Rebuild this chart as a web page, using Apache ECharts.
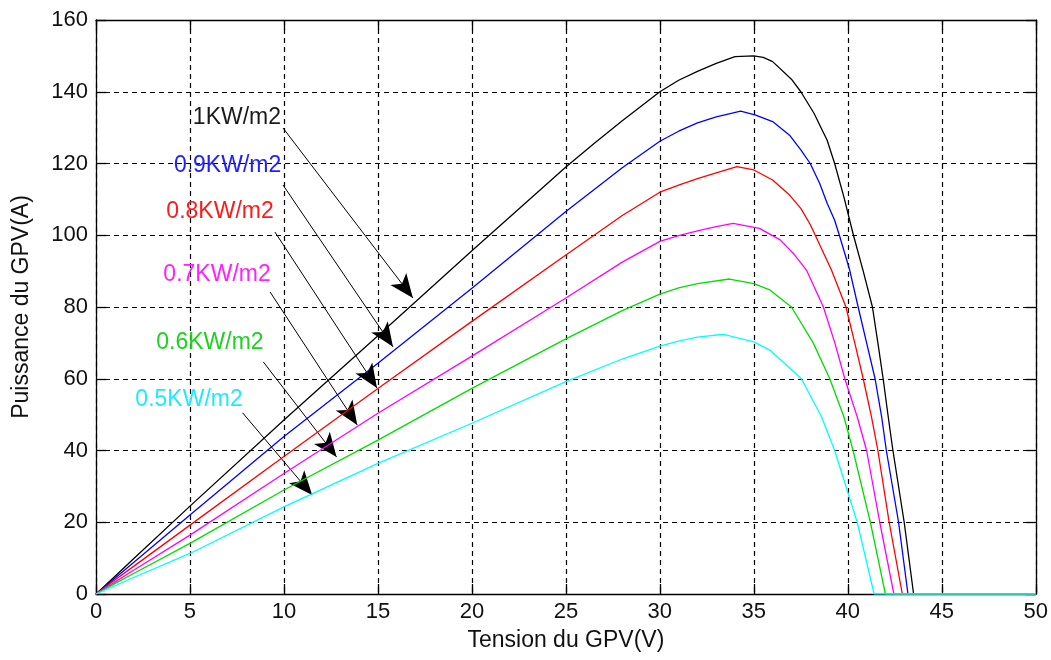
<!DOCTYPE html>
<html>
<head>
<meta charset="utf-8">
<script src="https://cdn.jsdelivr.net/npm/echarts@6/dist/echarts.min.js"></script>
<style>
  html, body { margin: 0; padding: 0; background: #fff; }
  #chart { width: 1051px; height: 660px; }
</style>
</head>
<body>
<div id="chart"></div>
<script>
// courbes P(V) pour differents eclairements
var v1000 = [0, 1, 2, 5, 10, 15, 20, 25, 26.5, 28, 30, 31, 32, 33, 34, 35, 35.5, 36, 37, 37.5, 38.2, 38.9, 39.3, 39.8, 40.3, 40.82, 41.31, 41.6, 41.88, 42.15, 42.4, 43, 43.5, 50];
var p1000 = [0, 4.9, 9.8, 24.5, 48.5, 72, 95.7, 119, 125.6, 131.9, 140, 143.2, 145.7, 147.9, 149.8, 150, 149.6, 148.4, 143.5, 140, 134, 126.5, 120, 110.5, 100, 90, 80, 70, 60, 49.4, 40, 20, 0, 0];

var v900 = [0, 1, 2, 5, 10, 15, 20, 25, 28, 30, 31, 32, 33, 34.3, 35.1, 36, 36.9, 37.5, 38, 38.5, 38.9, 39.3, 39.55, 40.1, 40.55, 41, 41.45, 41.8, 42.05, 42.7, 43.2, 50];
var p900 = [0, 4.4, 8.8, 22, 43.9, 64.3, 85.2, 106.6, 118.8, 126.2, 129, 131.3, 133, 134.6, 133.5, 131.7, 127.9, 123.8, 120, 114.5, 108.9, 104.2, 100, 90.3, 80, 70, 60, 49.4, 40, 20, 0, 0];

var v800 = [0, 1, 2, 5, 10, 15, 20, 25, 28, 30, 31, 32, 33, 34.1, 35, 36, 36.9, 37.5, 38, 38.25, 39.13, 39.9, 40.37, 40.82, 41.26, 41.6, 42.2, 42.9, 50];
var p800 = [0, 3.9, 7.7, 19.2, 38.3, 57.3, 76, 94.5, 105.5, 112, 114, 115.8, 117.4, 119.1, 118.2, 115.4, 111.2, 107.5, 103, 100.2, 90.3, 80, 70, 60, 49.4, 40, 20, 0, 0];

var v700 = [0, 1, 2, 5, 10, 15, 20, 25, 28, 30, 31, 32, 33, 33.9, 35.3, 35.85, 36.4, 37.09, 37.8, 38.7, 39.31, 39.84, 40.5, 41, 41.7, 42.45, 50];
var p700 = [0, 3.3, 6.6, 16.4, 33.6, 50.4, 66.3, 82.5, 92.5, 98.3, 99.9, 101.2, 102.4, 103.3, 101.9, 100.3, 98.7, 95, 90.3, 80, 70, 60, 49.4, 40, 20, 0, 0];

var v600 = [0, 1, 2, 5, 10, 15, 20, 25, 28, 30, 31, 32, 33.7, 35, 35.85, 37, 38.16, 39.04, 39.79, 40.28, 41.2, 42, 50];
var p600 = [0, 2.9, 5.7, 14.1, 29, 42.9, 57.3, 71.1, 79, 83.6, 85.3, 86.5, 87.8, 86.5, 84.75, 80, 70, 60, 49.4, 40, 20, 0, 0];

var v500 = [0, 1, 2, 5, 10, 15, 20, 25, 28, 30, 31, 32, 33.4, 35, 35.85, 37.53, 38.6, 39.3, 40.5, 41.4, 50];
var p500 = [0, 2.3, 4.6, 11.3, 24.3, 36.4, 47.6, 59.2, 65.5, 69.1, 70.5, 71.6, 72.4, 70.3, 68, 60, 49.4, 40, 20, 0, 0];

// annotations (texte + fleche), en coordonnees des axes
var labelText = ['1KW/m2', '0.9KW/m2', '0.8KW/m2', '0.7KW/m2', '0.6KW/m2', '0.5KW/m2'];
var labelPos = [[7.5, 132.7], [7.0, 119.3], [6.6, 106.5], [6.44, 88.9], [6.06, 70], [4.95, 54.1]];
var arrowFrom = [[9.95, 129.9], [9.95, 114], [9.52, 100.9], [9.26, 84.2], [8.9, 64.7], [7.8, 50.5]];
var arrowTo = [[16.86, 82.5], [15.8, 68.9], [14.95, 57.4], [13.9, 47.1], [12.8, 38.2], [11.5, 27.6]];

var colors = ['#000000', '#0000ff', '#ff0000', '#ff00ff', '#00dd00', '#00ffff'];
var labelColors = ['#1a1a1a', '#2020ff', '#ff1a1a', '#ff20ff', '#20d020', '#20e8ff'];

function zip(v, p) {
  var out = [];
  for (var i = 0; i < v.length; i++) out.push([v[i], p[i]]);
  return out;
}

var curves = [
  [v1000, p1000], [v900, p900], [v800, p800],
  [v700, p700], [v600, p600], [v500, p500]
];

var font = 'Liberation Sans, Arial, sans-serif';

var series = curves.map(function (c, i) {
  return {
    name: labelText[i],
    type: 'line',
    data: zip(c[0], c[1]),
    showSymbol: false,
    lineStyle: { color: colors[i], width: 1.3 },
    z: 3 + i
  };
});

series.push({
  name: 'annotations',
  type: 'line',
  data: [],
  silent: true,
  markLine: {
    silent: true,
    symbol: ['none', 'arrow'],
    symbolSize: [15, 24],
    lineStyle: { color: '#000', width: 1, type: 'solid' },
    label: { show: false },
    data: arrowFrom.map(function (a, i) {
      return [{ coord: a }, { coord: arrowTo[i] }];
    })
  },
  markPoint: {
    silent: true,
    symbol: 'circle',
    symbolSize: 0,
    data: labelPos.map(function (p, i) {
      return {
        coord: p,
        value: labelText[i],
        label: {
          show: true,
          position: 'inside',
          formatter: labelText[i],
          color: labelColors[i],
          fontSize: 23,
          fontFamily: font
        }
      };
    })
  }
});

var dom = document.getElementById('chart');
var myChart = echarts.init(dom);

var axisLine = { show: true, onZero: false, lineStyle: { color: '#000', width: 1.3 } };
var tick = { show: true, inside: true, length: 10, lineStyle: { color: '#000', width: 1.3 } };
var grid = { show: true, lineStyle: { color: '#000', width: 1.2, type: [5, 4] } };

var option = {
  animation: false,
  backgroundColor: '#fff',
  grid: { left: 96, right: 15, top: 20, bottom: 66 },
  xAxis: [
    {
      type: 'value',
      min: 0, max: 50, interval: 5,
      name: 'Tension du GPV(V)',
      nameLocation: 'middle',
      nameGap: 35,
      nameTextStyle: { color: '#111', fontSize: 23, fontFamily: font },
      axisLine: axisLine,
      axisTick: tick,
      axisLabel: { color: '#111', fontSize: 22, fontFamily: font, margin: 7 },
      splitLine: grid
    },
    {
      type: 'value',
      position: 'top',
      min: 0, max: 50, interval: 5,
      axisLine: axisLine,
      axisTick: tick,
      axisLabel: { show: false },
      splitLine: { show: false }
    }
  ],
  yAxis: [
    {
      type: 'value',
      min: 0, max: 160, interval: 20,
      name: 'Puissance du GPV(A)',
      nameLocation: 'middle',
      nameGap: 63,
      nameTextStyle: { color: '#111', fontSize: 23, fontFamily: font },
      axisLine: axisLine,
      axisTick: tick,
      axisLabel: { color: '#111', fontSize: 22, fontFamily: font, margin: 8 },
      splitLine: grid
    },
    {
      type: 'value',
      position: 'right',
      min: 0, max: 160, interval: 20,
      axisLine: axisLine,
      axisTick: tick,
      axisLabel: { show: false },
      splitLine: { show: false }
    }
  ],
  series: series
};

if (option && typeof option === 'object') {
  myChart.setOption(option, true);
}
</script>
</body>
</html>
